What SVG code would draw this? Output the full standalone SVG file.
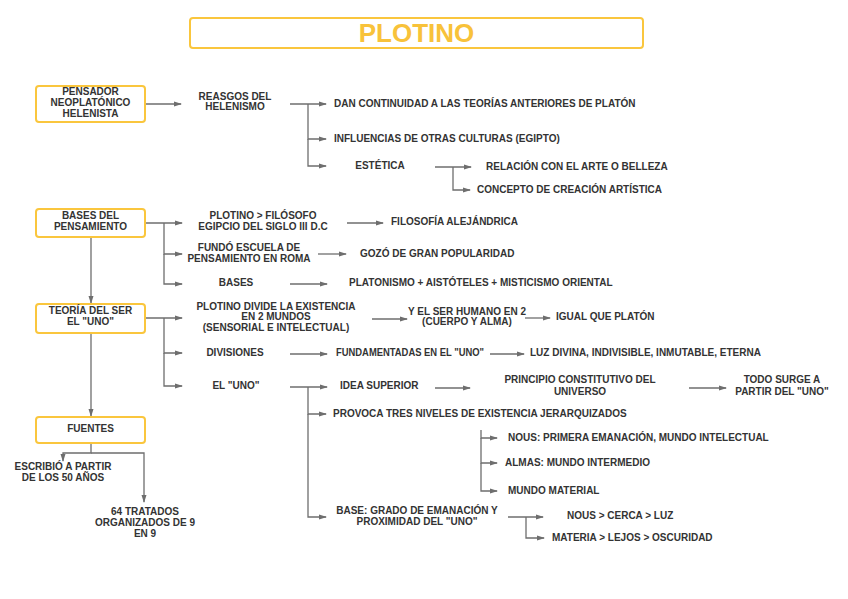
<svg xmlns="http://www.w3.org/2000/svg" width="848" height="599" viewBox="0 0 848 599">
<style>
text{font-family:"Liberation Sans",Arial,sans-serif;font-weight:bold;font-size:10px;fill:#333}
.c{text-anchor:middle}
.box{fill:#fff;stroke:#fac63d;stroke-width:2}
.ln{fill:none;stroke:#6e6e6e;stroke-width:1.3}
.ttl{font-size:26px;fill:#f8c23a;text-anchor:middle}
</style>
<defs>
<marker id="ah" markerWidth="8" markerHeight="6" refX="7" refY="3" orient="auto" markerUnits="userSpaceOnUse">
<path d="M0,0.5 L8,3 L0,5.5 Z" fill="#6e6e6e"/>
</marker>
</defs>
<rect width="848" height="599" fill="#fff"/>

<g id="title">
<rect class="box" x="190" y="18" width="453" height="30" rx="3"/>
<text class="ttl" x="416.5" y="42">PLOTINO</text>
</g>

<g id="connectors">
<path class="ln" d="M145,104 H181" marker-end="url(#ah)"/>
<path class="ln" d="M290,104 H326" marker-end="url(#ah)"/>
<path class="ln" d="M308,104 V139 H326" marker-end="url(#ah)"/>
<path class="ln" d="M308,139 V166 H326" marker-end="url(#ah)"/>
<path class="ln" d="M435,167 H471" marker-end="url(#ah)"/>
<path class="ln" d="M453,167 V190 H470" marker-end="url(#ah)"/>
<path class="ln" d="M145,223 H182" marker-end="url(#ah)"/>
<path class="ln" d="M164,223 V254 H182" marker-end="url(#ah)"/>
<path class="ln" d="M164,254 V284 H182" marker-end="url(#ah)"/>
<path class="ln" d="M347,223 H383" marker-end="url(#ah)"/>
<path class="ln" d="M318,254 H346" marker-end="url(#ah)"/>
<path class="ln" d="M290,284 H327" marker-end="url(#ah)"/>
<path class="ln" d="M91,237 V303" marker-end="url(#ah)"/>
<path class="ln" d="M145,318 H182" marker-end="url(#ah)"/>
<path class="ln" d="M164,318 V353 H182" marker-end="url(#ah)"/>
<path class="ln" d="M164,353 V386 H182" marker-end="url(#ah)"/>
<path class="ln" d="M372,319 H407" marker-end="url(#ah)"/>
<path class="ln" d="M525,318 H550" marker-end="url(#ah)"/>
<path class="ln" d="M290,354 H327" marker-end="url(#ah)"/>
<path class="ln" d="M490,354 H524" marker-end="url(#ah)"/>
<path class="ln" d="M290,387 H327" marker-end="url(#ah)"/>
<path class="ln" d="M308,387 V414 H326" marker-end="url(#ah)"/>
<path class="ln" d="M308,414 V517 H326" marker-end="url(#ah)"/>
<path class="ln" d="M435,388 H470" marker-end="url(#ah)"/>
<path class="ln" d="M689,388 H726" marker-end="url(#ah)"/>
<path class="ln" d="M481,430 V438 H497" marker-end="url(#ah)"/>
<path class="ln" d="M481,438 V463 H497" marker-end="url(#ah)"/>
<path class="ln" d="M481,463 V491 H497" marker-end="url(#ah)"/>
<path class="ln" d="M508,517 H543" marker-end="url(#ah)"/>
<path class="ln" d="M526,517 V538 H544" marker-end="url(#ah)"/>
<path class="ln" d="M91,333 V416" marker-end="url(#ah)"/>
<path class="ln" d="M91,443 V453 H63 V461" marker-end="url(#ah)"/>
<path class="ln" d="M91,453 H144 V502" marker-end="url(#ah)"/>
</g>

<g id="n-pensador">
<rect class="box" x="36" y="86" width="109" height="36" rx="3"/>
<text class="c" x="90.5" y="95">PENSADOR</text>
<text class="c" x="90.5" y="106">NEOPLATÓNICO</text>
<text class="c" x="90.5" y="117">HELENISTA</text>
</g>
<g id="n-rasgos"><text class="c" x="235" y="100">REASGOS DEL</text><text class="c" x="235" y="110">HELENISMO</text></g>
<g id="n-dan"><text x="334" y="107">DAN CONTINUIDAD A LAS TEORÍAS ANTERIORES DE PLATÓN</text></g>
<g id="n-infl"><text x="334" y="142">INFLUENCIAS DE OTRAS CULTURAS (EGIPTO)</text></g>
<g id="n-estetica"><text class="c" x="380" y="169">ESTÉTICA</text></g>
<g id="n-relacion"><text x="486" y="170">RELACIÓN CON EL ARTE O BELLEZA</text></g>
<g id="n-concepto"><text x="477" y="193">CONCEPTO DE CREACIÓN ARTÍSTICA</text></g>

<g id="n-bases">
<rect class="box" x="36" y="209" width="109" height="28" rx="3"/>
<text class="c" x="90.5" y="219">BASES DEL</text>
<text class="c" x="90.5" y="230">PENSAMIENTO</text>
</g>
<g id="n-plotino"><text class="c" x="263" y="219">PLOTINO &gt; FILÓSOFO</text><text class="c" x="263" y="230">EGIPCIO DEL SIGLO III D.C</text></g>
<g id="n-filo"><text x="391" y="225">FILOSOFÍA ALEJÁNDRICA</text></g>
<g id="n-fundo"><text class="c" x="249" y="251">FUNDÓ ESCUELA DE</text><text class="c" x="249" y="262">PENSAMIENTO EN ROMA</text></g>
<g id="n-gozo"><text x="360" y="257">GOZÓ DE GRAN POPULARIDAD</text></g>
<g id="n-bases2"><text class="c" x="236" y="286">BASES</text></g>
<g id="n-platonismo"><text x="349" y="286">PLATONISMO + AISTÓTELES + MISTICISMO ORIENTAL</text></g>

<g id="n-teoria">
<rect class="box" x="36" y="304" width="109" height="29" rx="3"/>
<text class="c" x="90.5" y="314">TEORÍA DEL SER</text>
<text class="c" x="90.5" y="325">EL "UNO"</text>
</g>
<g id="n-divide"><text class="c" x="276" y="310">PLOTINO DIVIDE LA EXISTENCIA</text><text class="c" x="276" y="320">EN 2 MUNDOS</text><text class="c" x="276" y="331">(SENSORIAL E INTELECTUAL)</text></g>
<g id="n-humano"><text class="c" x="467" y="315">Y EL SER HUMANO EN 2</text><text class="c" x="467" y="325">(CUERPO Y ALMA)</text></g>
<g id="n-igual"><text x="556" y="320">IGUAL QUE PLATÓN</text></g>
<g id="n-divisiones"><text class="c" x="235" y="356">DIVISIONES</text></g>
<g id="n-fund"><text x="336" y="356" textLength="148" lengthAdjust="spacingAndGlyphs">FUNDAMENTADAS EN EL "UNO"</text></g>
<g id="n-luz"><text x="530" y="356">LUZ DIVINA, INDIVISIBLE, INMUTABLE, ETERNA</text></g>
<g id="n-eluno"><text class="c" x="236" y="389">EL "UNO"</text></g>
<g id="n-idea"><text x="340" y="389">IDEA SUPERIOR</text></g>
<g id="n-principio"><text class="c" x="580" y="383">PRINCIPIO CONSTITUTIVO DEL</text><text class="c" x="580" y="395">UNIVERSO</text></g>
<g id="n-todo"><text class="c" x="782" y="383">TODO SURGE A</text><text class="c" x="782" y="395">PARTIR DEL "UNO"</text></g>
<g id="n-provoca"><text x="333" y="417">PROVOCA TRES NIVELES DE EXISTENCIA JERARQUIZADOS</text></g>
<g id="n-nous"><text x="508" y="441">NOUS: PRIMERA EMANACIÓN, MUNDO INTELECTUAL</text></g>
<g id="n-almas"><text x="505" y="466">ALMAS: MUNDO INTERMEDIO</text></g>
<g id="n-material"><text x="508" y="494">MUNDO MATERIAL</text></g>
<g id="n-base"><text class="c" x="417" y="514">BASE: GRADO DE EMANACIÓN Y</text><text class="c" x="417" y="525">PROXIMIDAD DEL "UNO"</text></g>
<g id="n-nous2"><text x="567" y="519">NOUS &gt; CERCA &gt; LUZ</text></g>
<g id="n-materia"><text x="552" y="541">MATERIA &gt; LEJOS &gt; OSCURIDAD</text></g>

<g id="n-fuentes">
<rect class="box" x="36" y="417" width="109" height="26" rx="3"/>
<text class="c" x="90.5" y="432">FUENTES</text>
</g>
<g id="n-escribio"><text class="c" x="63" y="470">ESCRIBIÓ A PARTIR</text><text class="c" x="63" y="481">DE LOS 50 AÑOS</text></g>
<g id="n-tratados"><text class="c" x="145" y="515">64 TRATADOS</text><text class="c" x="145" y="526">ORGANIZADOS DE 9</text><text class="c" x="145" y="537">EN 9</text></g>
</svg>
